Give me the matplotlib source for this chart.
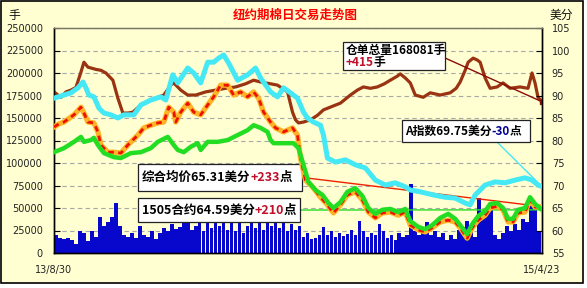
import numpy as np
import matplotlib
matplotlib.use('Agg')
import matplotlib.pyplot as plt
import matplotlib.transforms as mtransforms
from matplotlib.patches import Rectangle

plt.rcParams['font.family'] = ['Noto Sans CJK SC', 'DejaVu Sans']

# ---------------- data ----------------
title = '纽约期棉日交易走势图'
date_labels = ['13/8/30', '15/4/23']
n_days = 489  # session index span

# warehouse receipts (lots, left axis)
brown_days = [0, 4, 7, 12, 17, 22, 27, 30, 34, 42, 47, 52, 59, 64, 69, 74, 79, 87, 97, 110,
              117, 120, 127, 134, 142, 152, 162, 172, 182, 192, 200, 207, 217, 224, 234, 239,
              242, 245, 250, 257, 264, 270, 279, 287, 297, 304, 310, 317, 324, 331, 337, 344,
              347, 352, 357, 362, 370, 377, 387, 397, 403, 407, 412, 415, 420, 424, 427, 432,
              437, 444, 450, 457, 467, 475, 479, 482, 485, 489]
brown_vals = [179000, 175500, 173000, 179000, 181000, 184000, 201000, 212000, 206500, 204000,
              203000, 200000, 192000, 172000, 155500, 155500, 156500, 164500, 170000, 175500,
              186500, 189000, 181000, 175500, 175500, 179000, 181000, 183000, 184500, 188000,
              192000, 190000, 188000, 186500, 179000, 156500, 148000, 144500, 145500, 148000,
              153000, 159000, 163000, 166500, 175500, 181000, 184500, 183000, 184500, 188000,
              192000, 196500, 199000, 194500, 189000, 175500, 173000, 178000, 175500, 178000,
              183000, 190000, 203000, 212000, 216500, 214500, 212000, 194500, 183000, 184500,
              189000, 183000, 184500, 183000, 200000, 189000, 173000, 168081]

# Cotlook A index (cents, right axis)
cyan_days = [0, 7, 17, 24, 29, 32, 35, 40, 45, 50, 57, 64, 70, 80, 87, 97, 107, 112, 119, 124,
             134, 140, 147, 154, 160, 165, 170, 175, 184, 194, 202, 207, 217, 224, 230, 237,
             244, 250, 254, 260, 267, 270, 274, 282, 292, 302, 312, 322, 332, 342, 352, 357,
             367, 380, 392, 402, 412, 417, 422, 432, 442, 452, 462, 472, 479, 485, 489]
cyan_vals = [89.4, 89.9, 90.6, 91.7, 93.0, 91.7, 90.1, 89.7, 87.2, 86.1, 85.7, 85.0, 85.7, 85.7,
             87.9, 89.0, 89.7, 89.0, 94.6, 92.8, 96.1, 95.0, 92.8, 97.4, 97.4, 98.3, 99.0, 97.2,
             93.4, 94.6, 96.1, 93.9, 90.8, 89.7, 91.7, 90.6, 89.4, 86.3, 85.0, 84.1, 83.4, 81.2,
             76.1, 75.2, 75.7, 74.6, 73.9, 71.2, 70.1, 70.6, 69.7, 69.0, 68.6, 67.9, 67.4, 67.2,
             66.1, 65.7, 67.9, 70.1, 70.8, 70.6, 71.2, 71.7, 71.2, 70.1, 69.75]

# composite average price (cents, right axis)
red_days = [0, 5, 10, 20, 27, 30, 34, 40, 44, 47, 54, 60, 67, 74, 84, 90, 97, 104, 110, 115,
            120, 122, 127, 134, 140, 147, 154, 160, 167, 174, 180, 187, 194, 200, 205, 210,
            217, 222, 230, 239, 244, 247, 252, 259, 267, 274, 280, 287, 294, 302, 309, 315,
            322, 329, 337, 345, 352, 357, 365, 372, 379, 387, 395, 402, 407, 414, 419, 425,
            432, 437, 444, 450, 455, 460, 465, 472, 477, 482, 489]
red_vals = [83.0, 83.7, 84.1, 85.7, 87.4, 86.1, 84.1, 83.9, 81.9, 79.0, 77.4, 77.4, 77.2, 79.0,
            81.2, 82.8, 83.4, 83.9, 84.1, 87.4, 86.3, 84.1, 86.3, 88.3, 86.3, 85.7, 87.9, 89.7,
            92.3, 92.3, 90.1, 90.8, 89.7, 90.8, 89.4, 86.3, 84.1, 82.8, 81.9, 82.8, 81.2, 76.1,
            71.2, 69.7, 67.4, 65.7, 63.9, 65.7, 67.9, 68.6, 66.8, 64.1, 62.8, 63.9, 64.1, 63.4,
            64.1, 61.2, 60.1, 59.7, 60.6, 61.9, 62.3, 61.9, 60.6, 58.3, 60.6, 62.3, 63.4, 65.0,
            65.4, 64.6, 61.9, 61.9, 63.9, 64.1, 66.8, 65.2, 65.31]

# 1505 contract (cents, right axis)
green_days = [0, 10, 20, 27, 30, 37, 40, 44, 50, 60, 67, 77, 87, 97, 104, 114, 120, 124, 130,
              137, 144, 147, 154, 164, 174, 184, 194, 200, 207, 214, 217, 220, 230, 240, 245,
              250, 255, 262, 269, 275, 280, 287, 294, 302, 309, 315, 322, 329, 337, 345, 352,
              357, 365, 372, 379, 387, 395, 402, 407, 414, 419, 425, 432, 437, 444, 450, 455,
              460, 465, 472, 477, 482, 489]
green_vals = [77.4, 78.3, 79.7, 80.8, 79.7, 80.1, 80.6, 79.0, 77.2, 76.3, 76.1, 77.2, 77.4, 78.3,
              79.7, 80.8, 79.0, 77.9, 77.4, 78.6, 79.4, 77.9, 79.7, 79.7, 80.1, 81.2, 82.3, 83.4,
              82.8, 81.9, 80.1, 79.4, 79.4, 79.4, 78.3, 74.6, 70.8, 69.0, 67.9, 66.1, 65.0, 66.3,
              68.6, 69.4, 67.7, 65.0, 63.7, 64.6, 64.8, 64.1, 64.8, 62.1, 60.8, 60.3, 61.2, 62.8,
              63.7, 62.6, 61.2, 59.2, 61.4, 63.2, 64.3, 65.9, 66.1, 65.0, 62.6, 62.6, 64.6, 65.0,
              67.4, 65.9, 64.59]

# daily volume (lots, left axis), one bar per 4 sessions
volume = [20000, 17000, 16000, 17000, 14000, 10000, 24000, 22000, 13000, 24000,
          18000, 40000, 30000, 35000, 40000, 56000, 30000, 20000, 18000, 22000,
          17000, 30000, 20000, 18000, 24000, 16000, 22000, 28000, 25000, 32000,
          27000, 29000, 34000, 44000, 26000, 30000, 36000, 24000, 33000, 28000,
          38000, 30000, 45000, 26000, 34000, 24000, 36000, 22000, 30000, 40000,
          28000, 34000, 26000, 38000, 30000, 42000, 28000, 36000, 24000, 32000,
          26000, 30000, 18000, 22000, 16000, 17000, 20000, 29000, 20000, 24000,
          18000, 22000, 19000, 21000, 26000, 20000, 36000, 24000, 18000, 22000,
          20000, 32000, 25000, 17000, 20000, 15000, 22000, 18000, 20000, 77000,
          24000, 20000, 26000, 34000, 20000, 24000, 18000, 22000, 14000, 20000,
          16000, 26000, 29000, 36000, 26000, 18000, 61000, 40000, 48000, 52000,
          20000, 16000, 22000, 30000, 24000, 32000, 26000, 38000, 34000, 61000,
          50000, 25000]

stock_text = ('仓单总量168081手', '+415', '手')
a_text = ('A指数69.75美分', '-30', '点')
avg_text = ('综合均价65.31美分', '+233', '点')
c1505_text = ('1505合约64.59美分', '+210', '点')

# ---------------- styling ----------------
BG = '#FFFFD2'
W, H = 587, 288
fig = plt.figure(figsize=(W / 100, H / 100), dpi=100, facecolor='white')
fig.patches.append(Rectangle((0.001, 5 / H), 582 / W, 282 / H, transform=fig.transFigure,
                             facecolor=BG, edgecolor='black', lw=1.2, zorder=-10))

L, R, T, B = 54, 542, 28, 253
ax = fig.add_axes([L / W, (H - B) / H, (R - L) / W, (B - T) / H])
ax.set_facecolor(BG)
ax2 = ax.twinx()

ax.set_xlim(0, n_days)
ax.set_ylim(0, 250000)
ax2.set_ylim(55, 105)
ax.set_yticks(np.arange(0, 250001, 25000))
ax2.set_yticks(np.arange(55, 106, 5))
ax.grid(axis='y', color='#A8A8A8', linestyle=(0, (4, 3)), lw=0.8)
ax.set_axisbelow(True)

vol_x = np.arange(len(volume)) * 4 + 2
ax.bar(vol_x, volume, width=3.6, color='#0808CC', linewidth=0, zorder=2)
ax.plot(brown_days, brown_vals, color='#993311', lw=2.3, zorder=3, solid_joinstyle='round')

ax2.plot(cyan_days, cyan_vals, color='#45E8F5', lw=3.6, zorder=3, solid_joinstyle='round')
ax2.plot(red_days, red_vals, color='#FFB428', lw=3.8, zorder=4, solid_joinstyle='round')
ax2.plot(red_days, red_vals, color='#EE1100', lw=2.0, zorder=4, linestyle=(0, (2, 1.6)))
ax2.plot(green_days, green_vals, color='#22DD22', lw=3.2, zorder=5, solid_joinstyle='round')

tick_kw = dict(labelsize=7, labelcolor='#222222', direction='in', length=4, width=0.8)
ax.tick_params(axis='y', pad=8, **tick_kw)
ax2.tick_params(axis='y', pad=7, **tick_kw)
ax.set_xticks([0, n_days])
ax.set_xticklabels(date_labels)
ax.tick_params(axis='x', length=0, pad=9, labelsize=7, labelcolor='#222222')
for a in (ax, ax2):
    for s in ('left', 'right', 'bottom'):
        a.spines[s].set_color('black')
        a.spines[s].set_linewidth(1.0)
    a.spines['top'].set_color('#777766')
    a.spines['top'].set_linewidth(0.9)
for lab in ax.get_yticklabels() + ax2.get_yticklabels() + ax.get_xticklabels():
    lab.set_family('DejaVu Sans')

fig.text(0.503, 1 - 15.5 / H, title, color='#FF0000', fontsize=9, fontweight='bold',
         ha='center', va='center')
fig.text(8 / W, 1 - 15 / H, '手', fontsize=8.5, ha='left', va='center', color='#111111')
fig.text(550 / W, 1 - 15 / H, '美分', fontsize=8.5, ha='left', va='center', color='#111111')


def box(x0, y0, x1, y1):
    ax.add_patch(Rectangle((x0, y0), x1 - x0, y1 - y0, transform=ax.transAxes,
                           facecolor='white', edgecolor='#222222', lw=0.9, zorder=20,
                           clip_on=False))


fig.canvas.draw()
renderer = fig.canvas.get_renderer()


def seg_text(x, y, segs, fs=8.5):
    off = 0.0
    for s, c in segs:
        tr = mtransforms.offset_copy(ax.transAxes, fig=fig, x=off, y=0, units='dots')
        t = ax.text(x, y, s, transform=tr, fontsize=fs, fontweight='bold', color=c,
                    ha='left', va='center', zorder=21, clip_on=False)
        off += t.get_window_extent(renderer).width


def connector(xy_axes, xy_data, color, trans):
    ax.annotate('', xy=xy_data, xycoords=trans, xytext=xy_axes, textcoords=ax.transAxes,
                arrowprops=dict(arrowstyle='-', color=color, lw=1.0, shrinkA=0, shrinkB=0),
                zorder=15)


UP = '#C0102A'
DN = '#000090'

# connectors
connector((0.801, 0.867), (brown_days[-1], brown_vals[-1]), '#8B0A0A', ax.transData)
ax.plot([brown_days[-1]], [brown_vals[-1]], marker='s', ms=3.5, color='#8B0A0A', zorder=16)
connector((0.908, 0.493), (cyan_days[-1], cyan_vals[-1]), '#45E8F5', ax2.transData)
connector((0.508, 0.336), (red_days[-1], red_vals[-1]), '#EE2200', ax2.transData)
connector((0.504, 0.191), (green_days[-1], green_vals[-1]), '#22DD22', ax2.transData)

# boxes
box(0.592, 0.813, 0.801, 0.938)
seg_text(0.598, 0.900, [(stock_text[0], 'black')])
seg_text(0.598, 0.845, [(stock_text[1], UP), (stock_text[2], 'black')])

box(0.713, 0.493, 0.975, 0.591)
seg_text(0.719, 0.542, [(a_text[0], 'black'), (a_text[1], DN), (a_text[2], 'black')])

box(0.172, 0.276, 0.508, 0.396)
seg_text(0.180, 0.336, [(avg_text[0], 'black'), (avg_text[1], UP), (avg_text[2], 'black')], fs=9)

box(0.172, 0.138, 0.504, 0.244)
seg_text(0.180, 0.191, [(c1505_text[0], 'black'), (c1505_text[1], UP), (c1505_text[2], 'black')], fs=9)

fig.savefig('out.png', dpi=100, facecolor='white')
